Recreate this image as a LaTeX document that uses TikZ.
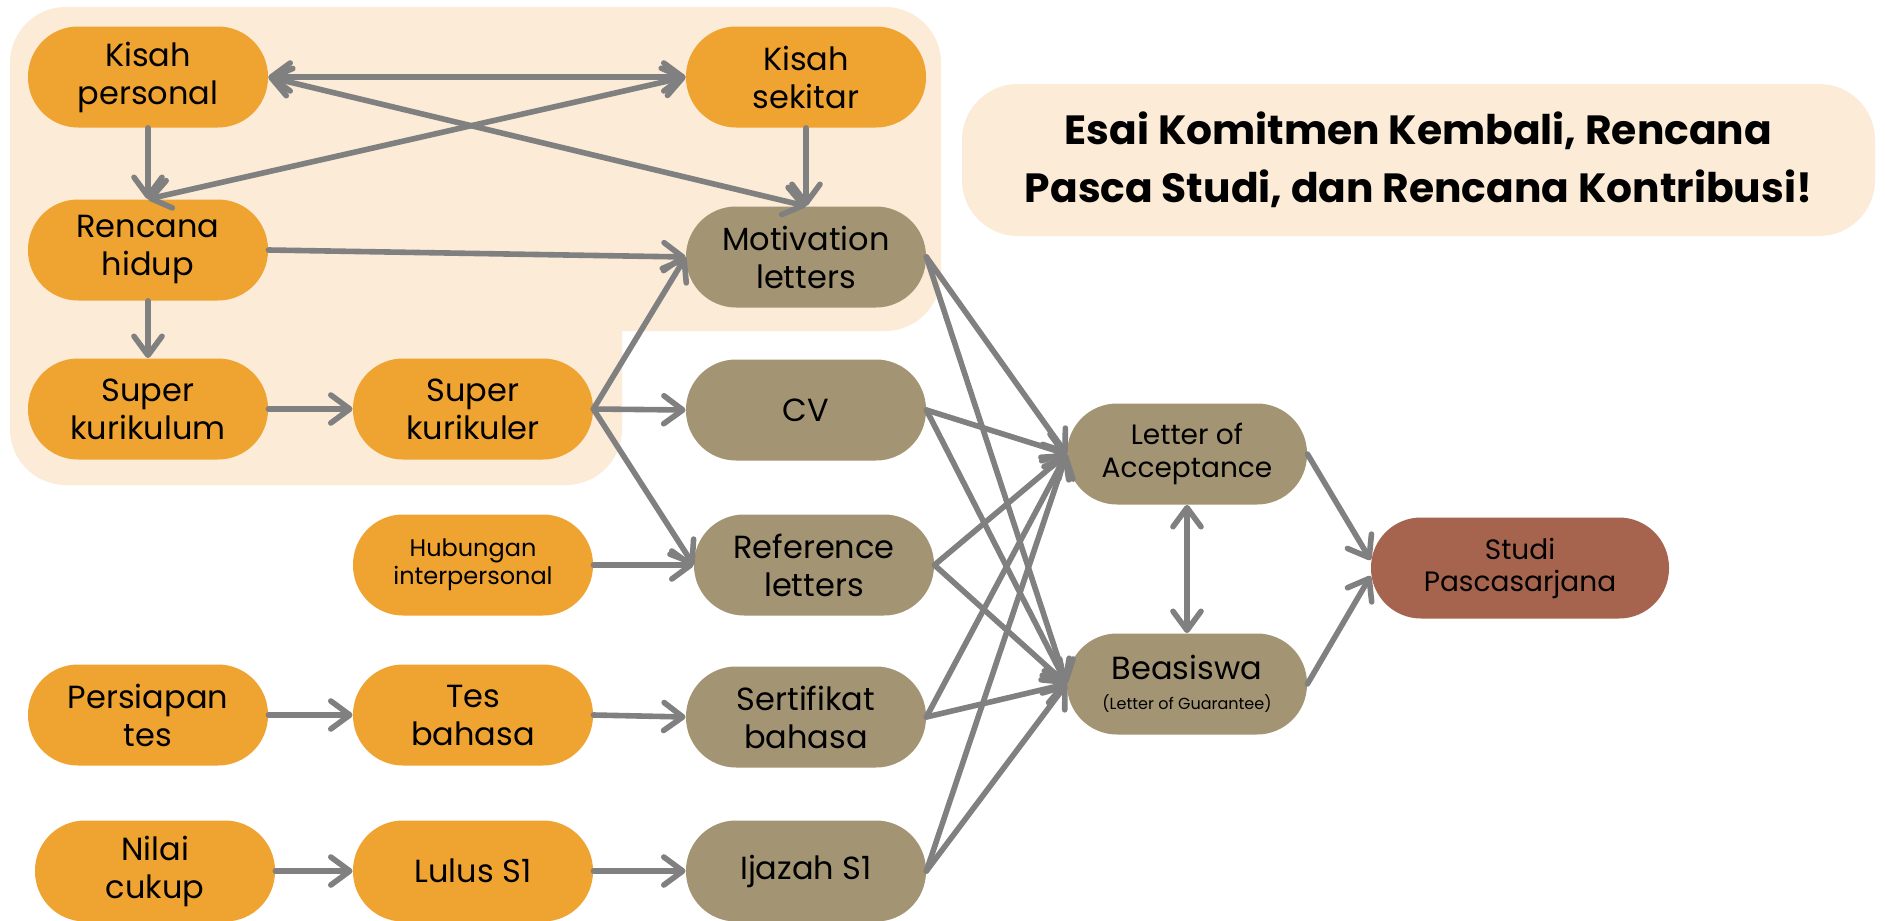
\documentclass[tikz,border=0pt]{standalone}
\usepackage{fontspec}
\setmainfont{Poppins}
\usetikzlibrary{arrows.meta}
\definecolor{orangeN}{RGB}{239,163,49}
\definecolor{taupeN}{RGB}{163,149,115}
\definecolor{brickN}{RGB}{166,100,78}
\definecolor{peachBg}{RGB}{251,235,215}
\definecolor{arrowC}{RGB}{128,128,128}
\begin{document}
\begin{tikzpicture}[x=0.5pt,y=-0.5pt,
  >={Straight Barb[length=9.5pt,width=14pt,round]},
  box/.style={rounded corners=25pt, minimum width=120pt, minimum height=50.5pt, inner sep=0pt, align=center, font=\fontsize{16}{19}\selectfont},
  orangebox/.style={box, fill=orangeN},
  taupebox/.style={box, fill=taupeN},
  conn/.style={draw=arrowC, line width=2.8pt, line cap=round, ->},
  dconn/.style={draw=arrowC, line width=2.8pt, line cap=round, <->},
]
\fill[white] (0,0) rectangle (1885,921);
\useasboundingbox (0,0) rectangle (1885,921);
% background panels
\fill[peachBg, rounded corners=28pt] (10,7) rectangle (622,485);
\fill[peachBg, rounded corners=28pt] (505,7) rectangle (941,331);
% title
\node[fill=peachBg, rounded corners=28pt, minimum width=456.5pt, minimum height=76pt, align=center,
  font=\bfseries\fontsize{20.4}{29}\selectfont] (title) at (1418.5,160)
  {Esai Komitmen Kembali, Rencana\\Pasca Studi, dan Rencana Kontribusi!};
% nodes
\node[orangebox] (kp) at (148,77) {Kisah\\personal};
\node[orangebox] (ks) at (806,77) {Kisah\\sekitar};
\node[orangebox] (rh) at (148,250) {Rencana\\hidup};
\node[taupebox] (ml) at (806,257) {Motivation\\letters};
\node[orangebox] (sk) at (148,409) {Super\\kurikulum};
\node[orangebox] (skr) at (473,409) {Super\\kurikuler};
\node[taupebox] (cv) at (806,410) {CV};
\node[orangebox, font=\fontsize{12}{14}\selectfont] (hub) at (473,565) {Hubungan\\interpersonal};
\node[taupebox] (ref) at (814,565) {Reference\\letters};
\node[orangebox] (pt) at (148,715) {Persiapan\\tes};
\node[orangebox] (tb) at (473,715) {Tes\\bahasa};
\node[taupebox] (sb) at (806,717) {Sertifikat\\bahasa};
\node[orangebox] (nc) at (155,871) {Nilai\\cukup};
\node[orangebox] (ls) at (473,871) {Lulus S1};
\node[taupebox] (ij) at (806,871) {Ijazah S1};
\node[taupebox, font=\fontsize{14}{16.5}\selectfont] (loa) at (1187,454) {Letter of\\Acceptance};
\node[taupebox] (bea) at (1187,684) {Beasiswa\\[-4pt]{\fontsize{8}{9}\selectfont (Letter of Guarantee)}};
\node[box, fill=brickN, minimum width=149pt, font=\fontsize{14}{16}\selectfont] (sp) at (1520,568) {Studi\\Pascasarjana};
% connectors
\draw[dconn] (kp.east) -- (ks.west);
\draw[dconn] (kp.east) -- (ml.north);
\draw[dconn] (rh.north) -- (ks.west);
\draw[conn] (kp.south) -- (rh.north);
\draw[conn] (ks.south) -- (ml.north);
\draw[conn] (rh.east) -- (ml.west);
\draw[conn] (rh.south) -- (sk.north);
\draw[conn] (sk.east) -- (skr.west);
\draw[conn] (skr.east) -- (ml.west);
\draw[conn] (skr.east) -- (cv.west);
\draw[conn] (skr.east) -- (ref.west);
\draw[conn] (hub.east) -- (ref.west);
\draw[conn] (pt.east) -- (tb.west);
\draw[conn] (tb.east) -- (sb.west);
\draw[conn] (nc.east) -- (ls.west);
\draw[conn] (ls.east) -- (ij.west);
\foreach \s in {ml,cv,ref,sb,ij} {
  \draw[conn] (\s.east) -- (loa.west);
  \draw[conn] (\s.east) -- (bea.west);
}
\draw[dconn] (loa.south) -- (bea.north);
\draw[conn] (loa.east) -- ([yshift=4pt]sp.west);
\draw[conn] (bea.east) -- ([yshift=-4pt]sp.west);
\end{tikzpicture}
\end{document}
